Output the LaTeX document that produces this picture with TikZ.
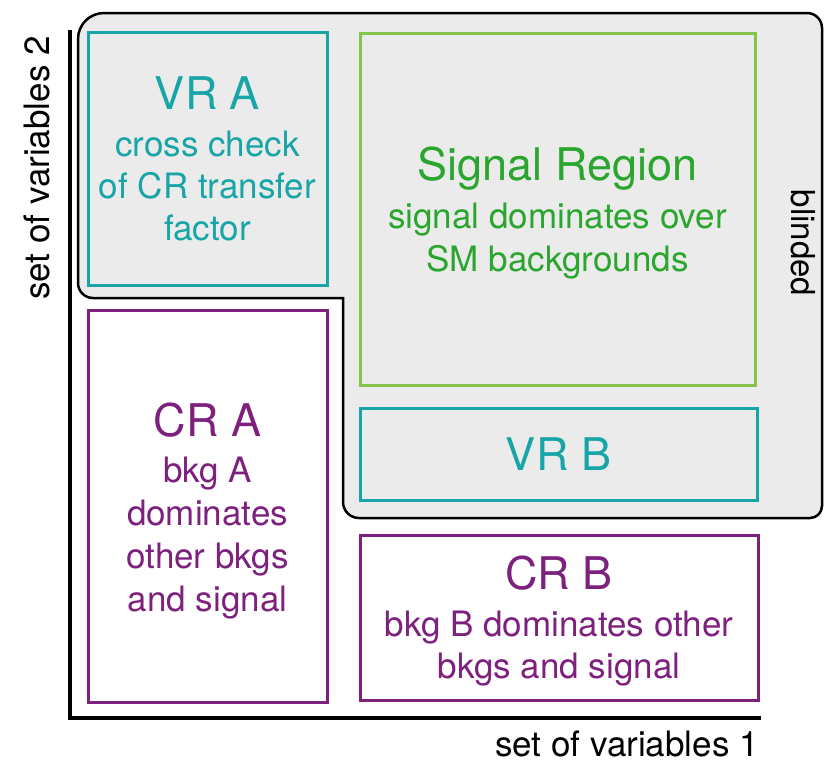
\documentclass[tikz,border=0pt]{standalone}
\usepackage{fontspec}
\setmainfont{TeX Gyre Heros}
\definecolor{tealc}{HTML}{17A5A7}
\definecolor{greenline}{HTML}{84C44C}
\definecolor{greentext}{HTML}{2AA52E}
\definecolor{purplec}{HTML}{7E207E}
\definecolor{blindgray}{HTML}{EBEBEB}
\newcommand{\ttl}{\fontsize{45}{42}\selectfont}
\newcommand{\sbt}{\fontsize{35}{42}\selectfont}
\newcommand{\sbtw}{\fontsize{35}{43}\selectfont}
\begin{document}
\begin{tikzpicture}[x=1pt,y=-1pt,
  regbox/.style={draw, line width=3pt, inner sep=0pt, align=center, font=\sbt},
  tealbox/.style={regbox, draw=tealc, text=tealc},
  greenbox/.style={regbox, draw=greenline, text=greentext},
  purplebox/.style={regbox, draw=purplec, text=purplec},
  axis/.style={line width=4pt, line cap=butt, line join=miter},
  lab/.style={font=\fontsize{35}{42}\selectfont, text=black, inner sep=0pt}]
\useasboundingbox (0,0) rectangle (827,764);
% blinded region
\draw[line width=2.5pt, fill=blindgray]
  (343,298) [rounded corners=15pt] -- (78,298) [rounded corners=26pt] -- (78,13)
  [rounded corners=15pt] -- (822,13) [rounded corners=12pt] -- (822,518)
  [rounded corners=16pt] -- (343,518) [sharp corners] -- cycle;
% axes
\coordinate (ytop) at (70,30);
\coordinate (orig) at (70,718);
\coordinate (xend) at (761,718);
\draw[axis] (ytop) -- (orig) -- (xend);
% regions (boxes)
\node[tealbox, minimum width=239pt, minimum height=253pt] (vra) at (207.5,158.5) {};
\node[greenbox, minimum width=395pt, minimum height=352pt] (sr) at (557.5,209) {};
\node[tealbox, minimum width=397pt, minimum height=92pt] (vrb) at (558.5,454) {\ttl VR B};
\node[purplebox, minimum width=239pt, minimum height=392pt] (cra) at (207.5,506) {};
\node[purplebox, minimum width=398pt, minimum height=165pt] (crb) at (559,617.5) {};
% region texts
\node[align=center, inner sep=0pt, font=\sbt, text=tealc] (vratext) at (207.5,158.5)
  {{\ttl VR A}\\[5pt] cross check\\ of CR transfer\\ factor};
\node[align=center, inner sep=0pt, font=\sbtw, text=greentext] (srtext) at (557.5,213)
  {{\ttl Signal Region}\\[5pt] signal dominates over\\ SM backgrounds};
\node[align=center, inner sep=0pt, font=\sbtw, text=purplec] (cratext) at (207.5,511)
  {{\ttl CR A}\\[3pt] bkg A\\ dominates\\ other bkgs\\ and signal};
\node[align=center, inner sep=0pt, font=\sbt, text=purplec] (crbtext) at (559,620.5)
  {{\ttl CR B}\\[5pt] bkg B dominates other\\ bkgs and signal};
% labels
\node[lab, rotate=90] (ylab) at (37,168) {set of variables 2};
\node[lab] (xlab) at (627,744) {set of variables 1};
\node[lab, rotate=-90, font=\fontsize{33}{40}\selectfont] (blind) at (803,243) {blinded};
\end{tikzpicture}
\end{document}
